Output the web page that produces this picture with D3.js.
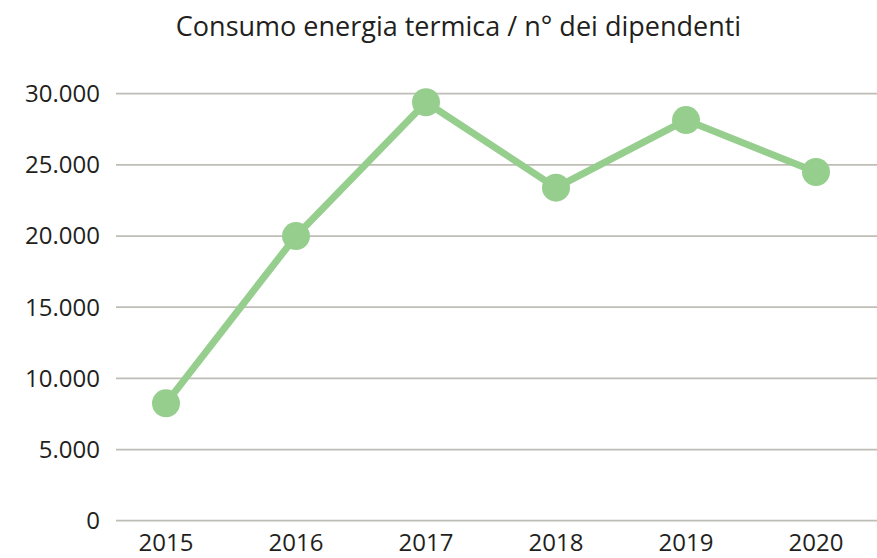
<!DOCTYPE html>
<html>
<head>
<meta charset="utf-8">
<script src="https://cdn.jsdelivr.net/npm/d3@7"></script>
<style>
  html, body { margin: 0; padding: 0; background: #fff; }
  svg { display: block; }
  text { font-family: "Open Sans", sans-serif; fill: #231f20; }
</style>
</head>
<body>
<svg id="chart" width="877" height="558"></svg>
<script>
const title = "Consumo energia termica / n° dei dipendenti";
const years = ["2015", "2016", "2017", "2018", "2019", "2020"];
const values = [8250, 20000, 29400, 23400, 28150, 24500];
const yTicks = [0, 5000, 10000, 15000, 20000, 25000, 30000];
const yTickLabels = ["0", "5.000", "10.000", "15.000", "20.000", "25.000", "30.000"];

const svg = d3.select("#chart");
const plotLeft = 116, plotRight = 877, plotTop = 93.7, plotBottom = 520.7;

const x = d3.scalePoint().domain(years).range([166, 816]);
const y = d3.scaleLinear().domain([0, 30000]).range([plotBottom, plotTop]);

// gridlines
svg.append("g").selectAll("line").data(yTicks).join("line")
  .attr("x1", plotLeft).attr("x2", plotRight)
  .attr("y1", d => y(d)).attr("y2", d => y(d))
  .attr("stroke", "#bebdb6").attr("stroke-width", 1.8);

// y labels
svg.append("g").selectAll("text").data(yTicks).join("text")
  .attr("x", 100).attr("y", d => y(d))
  .attr("dy", "0.35em")
  .attr("text-anchor", "end")
  .style("font-size", "24px")
  .text((d, i) => yTickLabels[i]);

// x labels
svg.append("g").selectAll("text").data(years).join("text")
  .attr("x", d => x(d)).attr("y", 551)
  .attr("text-anchor", "middle")
  .style("font-size", "24px")
  .text(d => d);

// title
svg.append("text")
  .attr("x", (175 + 742) / 2).attr("y", 36)
  .attr("text-anchor", "middle")
  .style("font-size", "27px")
  .text(title);

const data = years.map((yr, i) => ({ yr, v: values[i] }));
const green = "#96ce8e";

svg.append("path").datum(data)
  .attr("fill", "none")
  .attr("stroke", green)
  .attr("stroke-width", 7)
  .attr("stroke-linejoin", "miter")
  .attr("d", d3.line().x(d => x(d.yr)).y(d => y(d.v)));

svg.append("g").selectAll("circle").data(data).join("circle")
  .attr("cx", d => x(d.yr)).attr("cy", d => y(d.v))
  .attr("r", 14).attr("fill", green);
</script>
</body>
</html>
